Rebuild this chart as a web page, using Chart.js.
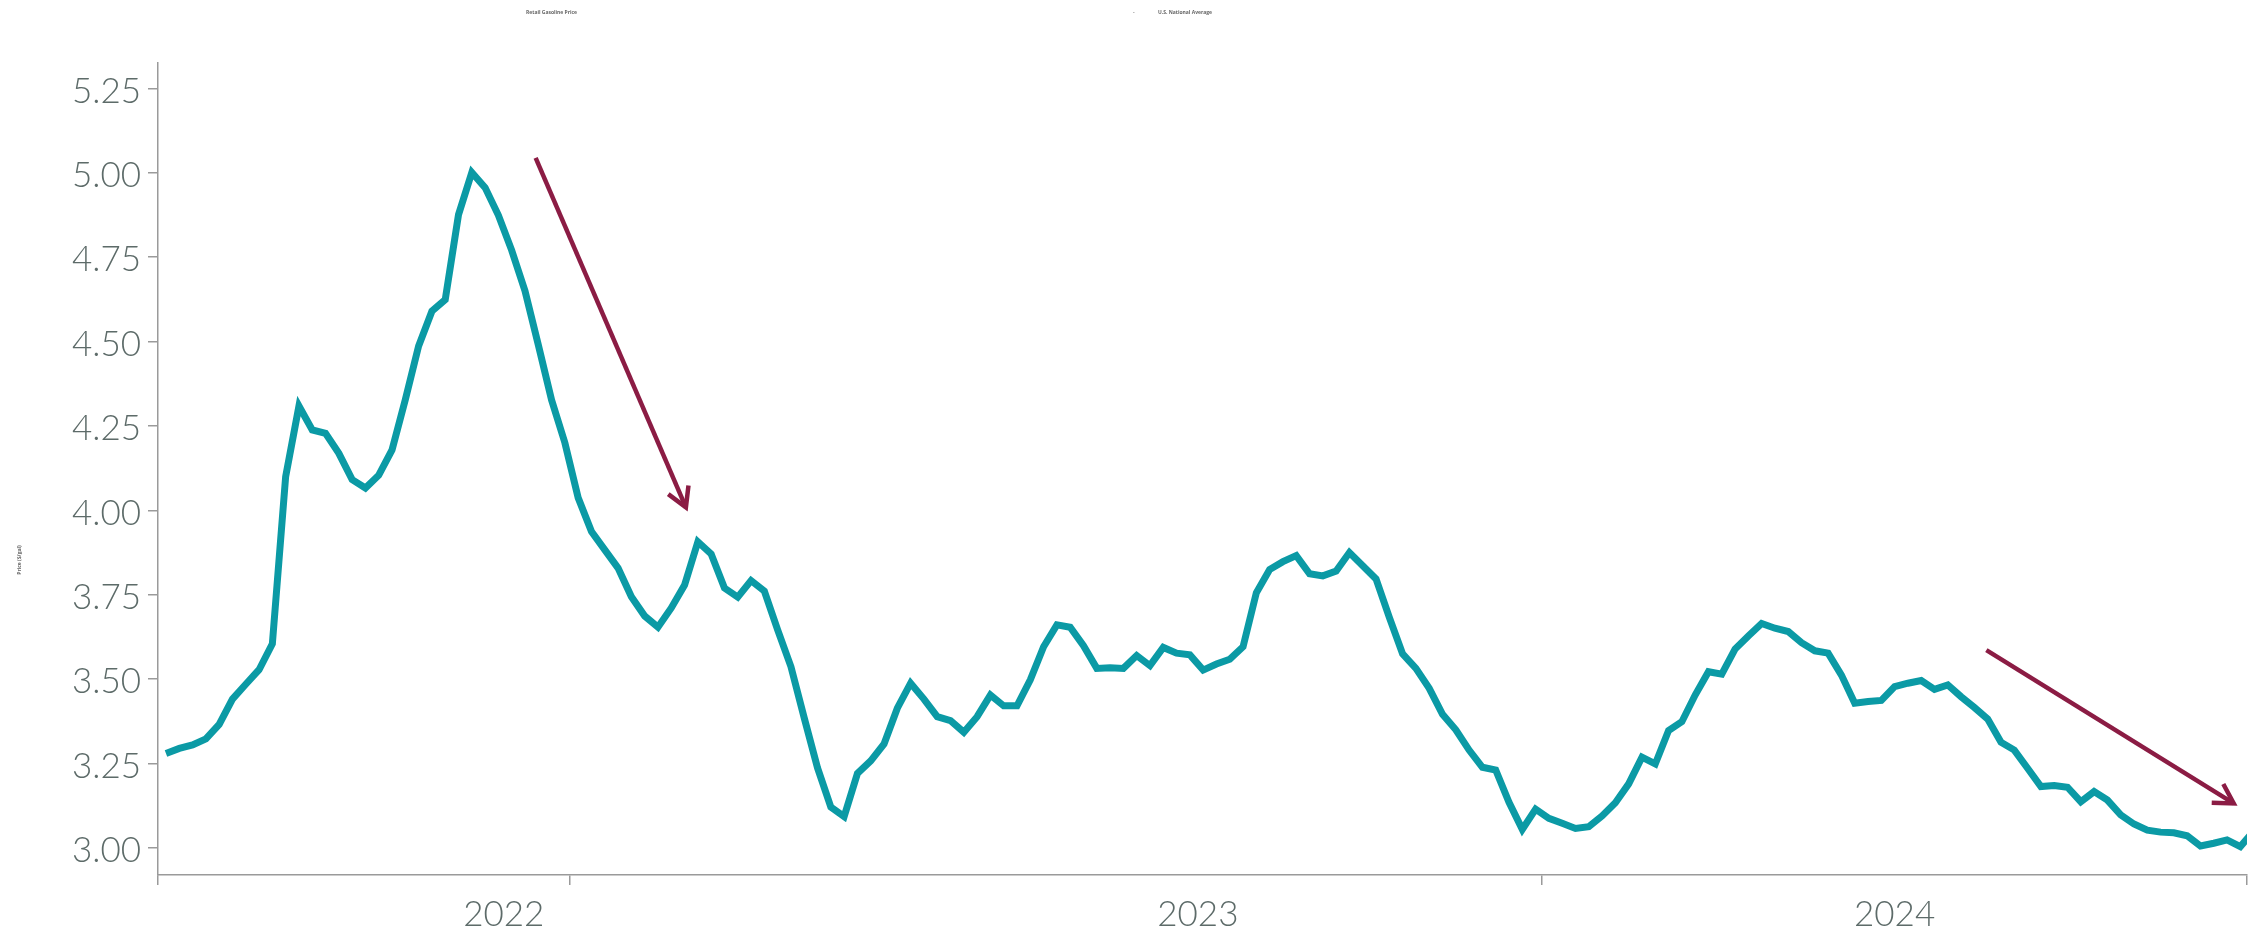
<!DOCTYPE html>
<html>
<head>
<meta charset="utf-8">
<title>Retail Gasoline Price</title>
<script src="https://cdn.jsdelivr.net/npm/chart.js@4.4.1/dist/chart.umd.min.js"></script>
<style>
  html, body { margin: 0; padding: 0; background: #fff; }
  #wrap { position: relative; width: 2256px; height: 934px; }
</style>
</head>
<body>
<div id="wrap"><canvas id="priceChart"></canvas></div>
<script>
// Weekly U.S. average retail price ($/gal), week 0 = 2022-01-03
const firstWeek = '2022-01-03';
const prices = [
  3.280, 3.295, 3.305, 3.323, 3.366, 3.441, 3.485, 3.528, 3.605, 4.100,
  4.309, 4.238, 4.228, 4.169, 4.091, 4.066, 4.104, 4.179, 4.328, 4.487,
  4.590, 4.624, 4.876, 5.001, 4.956, 4.874, 4.770, 4.650, 4.490, 4.327,
  4.200, 4.037, 3.937, 3.883, 3.829, 3.744, 3.687, 3.654, 3.711, 3.779,
  3.907, 3.871, 3.770, 3.743, 3.792, 3.761, 3.646, 3.537, 3.385, 3.237,
  3.121, 3.093, 3.221, 3.258, 3.308, 3.414, 3.488, 3.441, 3.389, 3.377,
  3.343, 3.389, 3.453, 3.421, 3.421, 3.498, 3.596, 3.661, 3.654, 3.599,
  3.532, 3.534, 3.532, 3.570, 3.540, 3.594, 3.577, 3.572, 3.527, 3.545,
  3.559, 3.596, 3.756, 3.825, 3.848, 3.866, 3.812, 3.806, 3.820, 3.875,
  3.836, 3.797, 3.683, 3.575, 3.532, 3.473, 3.396, 3.350, 3.290, 3.239,
  3.231, 3.135, 3.055, 3.115, 3.088, 3.073, 3.058, 3.063, 3.095, 3.134,
  3.190, 3.269, 3.249, 3.348, 3.374, 3.453, 3.522, 3.515, 3.589, 3.628,
  3.665, 3.651, 3.641, 3.608, 3.584, 3.577, 3.512, 3.429, 3.434, 3.437,
  3.478, 3.488, 3.496, 3.470, 3.483, 3.448, 3.416, 3.382, 3.313, 3.290,
  3.236, 3.182, 3.185, 3.180, 3.137, 3.167, 3.142, 3.098, 3.071, 3.053,
  3.047, 3.045, 3.036, 3.006, 3.014, 3.024, 3.004, 3.050
];
const priceTicks = [3.00, 3.25, 3.50, 3.75, 4.00, 4.25, 4.50, 4.75, 5.00, 5.25];
const yearLabels = ['2022', '2023', '2024'];
const yearMidWeeks = [25.4, 77.6, 130.0];          // where the year names sit
const edgeWeeks = [-0.6, 30.4, 103.5, 156.5];      // tick marks on the time axis
// trend arrows, [week, price] -> [week, price]
const trendArrows = [
  [[27.8, 5.044], [39.1, 4.009]],
  [[136.9, 3.586], [155.5, 3.132]]
];

const labelFont = { family: 'Lato, "Open Sans", sans-serif', size: 35, weight: '300' };
const labelColor = '#5d6b69';
const axisColor = '#9a9a9a';

// arrows drawn on top of the line
const arrowPlugin = {
  id: 'trendArrows',
  afterDatasetsDraw(chart) {
    const { ctx, scales: { x, y } } = chart;
    const head = 22;
    ctx.save();
    ctx.strokeStyle = '#8b1c44';
    ctx.lineWidth = 4.5;
    trendArrows.forEach(([from, to]) => {
      const x0 = x.getPixelForValue(from[0]), y0 = y.getPixelForValue(from[1]);
      const x1 = x.getPixelForValue(to[0]), y1 = y.getPixelForValue(to[1]);
      const a = Math.atan2(y1 - y0, x1 - x0);
      ctx.beginPath();
      ctx.moveTo(x0, y0);
      ctx.lineTo(x1, y1);
      ctx.stroke();
      ctx.beginPath();
      ctx.moveTo(x1 - head * Math.cos(a - Math.PI / 6), y1 - head * Math.sin(a - Math.PI / 6));
      ctx.lineTo(x1, y1);
      ctx.lineTo(x1 - head * Math.cos(a + Math.PI / 6), y1 - head * Math.sin(a + Math.PI / 6));
      ctx.stroke();
    });
    ctx.restore();
  }
};

// small header captions and the axis title
const captionPlugin = {
  id: 'captions',
  afterDraw(chart) {
    const ctx = chart.ctx;
    ctx.save();
    ctx.fillStyle = '#666';
    ctx.font = 'bold 5px "Open Sans", sans-serif';
    ctx.textBaseline = 'middle';
    ctx.textAlign = 'left';
    ctx.fillText('Retail Gasoline Price', 526, 13);
    ctx.fillText('-', 1133, 13);
    ctx.fillText('U.S. National Average', 1158, 13);
    ctx.translate(20, 560);
    ctx.rotate(-Math.PI / 2);
    ctx.textAlign = 'center';
    ctx.fillText('Price ($/gal)', 0, 0);
    ctx.restore();
  }
};

const ctx = document.getElementById('priceChart').getContext('2d');
const priceChart = new Chart(ctx, {
  type: 'line',
  data: {
    datasets: [
      {
        label: 'U.S. National Average',
        data: prices.map((p, i) => ({ x: i, y: p })),
        borderColor: '#0b9aa5',
        borderWidth: 7,
        pointRadius: 0,
        tension: 0,
        fill: false
      }
    ]
  },
  options: {
    responsive: true,
    maintainAspectRatio: false,
    animation: false,
    layout: { padding: { top: 63, right: 4, bottom: 0, left: 0 } },
    plugins: {
      legend: { display: false },
      tooltip: { enabled: false }
    },
    scales: {
      x: {
        type: 'linear',
        min: edgeWeeks[0],
        max: edgeWeeks[edgeWeeks.length - 1],
        afterBuildTicks: (scale) => {
          scale.ticks = edgeWeeks.concat(yearMidWeeks)
            .sort((a, b) => a - b)
            .map((v) => ({ value: v }));
        },
        afterFit: (scale) => { scale.height = 59; },
        border: { display: true, color: axisColor, width: 1.5 },
        grid: {
          drawOnChartArea: false,
          tickLength: 10,
          lineWidth: 1.5,
          color: (c) => (c.tick && edgeWeeks.includes(c.tick.value) ? axisColor : 'rgba(0,0,0,0)')
        },
        ticks: {
          autoSkip: false,
          maxRotation: 0,
          padding: 9,
          font: labelFont,
          color: labelColor,
          callback: (v) => {
            const k = yearMidWeeks.indexOf(v);
            return k >= 0 ? yearLabels[k] : '';
          }
        }
      },
      y: {
        min: 2.92,
        max: 5.325,
        afterBuildTicks: (scale) => {
          scale.ticks = priceTicks.map((v) => ({ value: v }));
        },
        afterFit: (scale) => { scale.width = 158; },
        border: { display: true, color: axisColor, width: 1.5 },
        grid: { drawOnChartArea: false, tickLength: 10, color: axisColor, lineWidth: 1.5 },
        ticks: {
          padding: 7,
          labelOffset: 3,
          font: labelFont,
          color: labelColor,
          callback: (v) => v.toFixed(2)
        }
      }
    }
  },
  plugins: [arrowPlugin, captionPlugin]
});
</script>
</body>
</html>
